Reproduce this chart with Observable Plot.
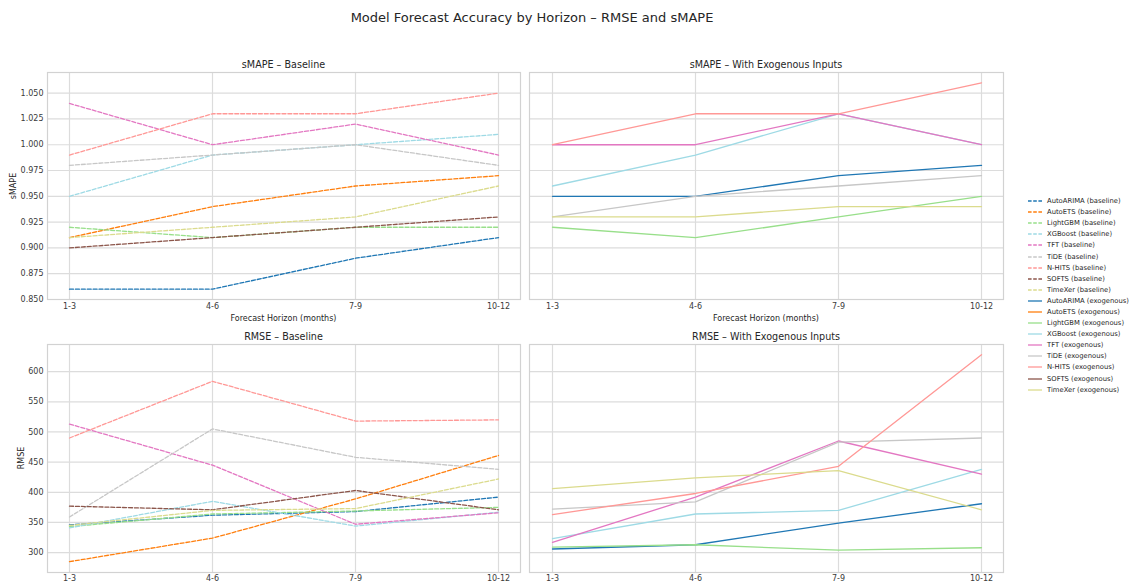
<!DOCTYPE html>
<html>
<head>
<meta charset="utf-8">
<script src="https://cdn.jsdelivr.net/npm/d3@7"></script>
<script src="https://cdn.jsdelivr.net/npm/@observablehq/plot@0.6"></script>
<style>
  html, body { margin: 0; padding: 0; background: #fff; }
  #root { position: relative; width: 1130px; height: 581px; overflow: hidden; font-family: "DejaVu Sans", sans-serif; color: #262626; }
  .abs { position: absolute; white-space: nowrap; }
  .ttl { font-size: 13px; transform: translate(-50%, -50%); }
  .sub { font-size: 9.6px; transform: translate(-50%, -50%); }
  .axl { font-size: 8px; transform: translate(-50%, -50%); }
  .axly { font-size: 8px; transform: translate(-50%, -50%) rotate(-90deg); }
  .leg { position: absolute; left: 1028px; top: 195.5px; width: 110px; font-size: 6.8px; color: #262626; white-space: nowrap; }
  .leg .row { height: 11.1px; display: flex; align-items: center; white-space: nowrap; }
  .leg svg { width: 14px; height: 4px; margin-right: 5px; flex: none; }
  .leg span { white-space: nowrap; flex: none; }
</style>
</head>
<body>
<div id="root"></div>
<script>
// ---------------- data ----------------
const horizons = ["1-3", "4-6", "7-9", "10-12"];
const models = ["AutoARIMA", "AutoETS", "LightGBM", "XGBoost", "TFT", "TiDE", "N-HITS", "SOFTS", "TimeXer"];
const modelColors = ["#1f77b4", "#ff7f0e", "#98df8a", "#9edae5", "#e377c2", "#c7c7c7", "#ff9896", "#8c564b", "#dbdb8d"];

const smapeBaseline = [
  [0.86, 0.86, 0.89, 0.91],
  [0.91, 0.94, 0.96, 0.97],
  [0.92, 0.91, 0.92, 0.92],
  [0.95, 0.99, 1.00, 1.01],
  [1.04, 1.00, 1.02, 0.99],
  [0.98, 0.99, 1.00, 0.98],
  [0.99, 1.03, 1.03, 1.05],
  [0.90, 0.91, 0.92, 0.93],
  [0.91, 0.92, 0.93, 0.96]
];
const smapeExogenous = [
  [0.95, 0.95, 0.97, 0.98],
  [null, null, null, null],
  [0.92, 0.91, 0.93, 0.95],
  [0.96, 0.99, 1.03, 1.00],
  [1.00, 1.00, 1.03, 1.00],
  [0.93, 0.95, 0.96, 0.97],
  [1.00, 1.03, 1.03, 1.06],
  [null, null, null, null],
  [0.93, 0.93, 0.94, 0.94]
];
const rmseBaseline = [
  [346, 362, 368, 392],
  [285, 324, 389, 461],
  [343, 364, 369, 375],
  [341, 385, 344, 367],
  [513, 445, 347, 366],
  [359, 505, 458, 438],
  [490, 584, 518, 520],
  [377, 371, 403, 371],
  [345, 370, 373, 422]
];
const rmseExogenous = [
  [306, 313, 349, 381],
  [null, null, null, null],
  [309, 313, 304, 308],
  [323, 364, 370, 438],
  [317, 392, 485, 430],
  [372, 384, 483, 490],
  [363, 398, 443, 628],
  [null, null, null, null],
  [406, 424, 436, 371]
];
const smapeTicks = [0.85, 0.875, 0.9, 0.925, 0.95, 0.975, 1.0, 1.025, 1.05];
const rmseTicks = [300, 350, 400, 450, 500, 550, 600];
const smapeDomain = [0.85, 1.07];
const rmseDomain = [267, 645];

const figTitle = "Model Forecast Accuracy by Horizon – RMSE and sMAPE";
const panelTitles = ["sMAPE – Baseline", "sMAPE – With Exogenous Inputs", "RMSE – Baseline", "RMSE – With Exogenous Inputs"];
const xLabel = "Forecast Horizon (months)";

// ---------------- helpers ----------------
function toRows(values) {
  return models.flatMap((m, i) => horizons.map((h, j) => ({ model: m, horizon: h, value: values[i][j] })));
}

const root = document.getElementById("root");
function addText(cls, text, x, y) {
  const d = document.createElement("div");
  d.className = "abs " + cls;
  d.textContent = text;
  d.style.left = x + "px";
  d.style.top = y + "px";
  root.appendChild(d);
}

function panel({ values, dashed, domain, ticks, fmt, showY, frame, xPad }) {
  const [fx0, fy0, fx1, fy1] = frame;
  const mL = showY ? fx0 : 6, mT = 2, mR = 2, mB = 18;
  const fw = fx1 - fx0, fh = fy1 - fy0;
  const plot = Plot.plot({
    width: fw + mL + mR,
    height: fh + mT + mB,
    marginLeft: mL, marginRight: mR, marginTop: mT, marginBottom: mB,
    style: { fontFamily: "DejaVu Sans, sans-serif", fontSize: "8px", color: "#3a3a3a", background: "transparent", overflow: "visible" },
    x: { type: "point", domain: horizons, padding: 0.15, axis: null },
    y: { domain, axis: null },
    color: { domain: models, range: modelColors },
    marks: [
      Plot.gridX(horizons, { stroke: "#dcdcdc", strokeOpacity: 1, strokeWidth: 1.2 }),
      Plot.gridY(ticks, { stroke: "#dcdcdc", strokeOpacity: 1, strokeWidth: 1.2 }),
      Plot.frame({ stroke: "#d2d2d2", strokeWidth: 1.2 }),
      Plot.axisX(horizons, { tickSize: 0, tickPadding: xPad, label: null, fill: "#3a3a3a" }),
      showY ? Plot.axisY(ticks, { tickSize: 0, tickPadding: 4, tickFormat: fmt, label: null, fill: "#3a3a3a" }) : null,
      Plot.line(toRows(values), {
        x: "horizon", y: "value", z: "model", stroke: "model",
        strokeWidth: 1.3, strokeDasharray: dashed ? "4,1.9" : null, curve: "linear"
      })
    ]
  });
  plot.style.position = "absolute";
  plot.style.left = (fx0 - mL) + "px";
  plot.style.top = (fy0 - mT) + "px";
  root.appendChild(plot);
}

// ---------------- panels ----------------
const fmtS = d3.format(".3f");
const fmtR = d3.format("d");
panel({ values: smapeBaseline, dashed: true, domain: smapeDomain, ticks: smapeTicks, fmt: fmtS, showY: true, frame: [47, 72, 520, 299], xPad: 4 });
panel({ values: smapeExogenous, dashed: false, domain: smapeDomain, ticks: smapeTicks, fmt: fmtS, showY: false, frame: [529, 72, 1003, 299], xPad: 4 });
panel({ values: rmseBaseline, dashed: true, domain: rmseDomain, ticks: rmseTicks, fmt: fmtR, showY: true, frame: [47, 344, 520, 572], xPad: 2.5 });
panel({ values: rmseExogenous, dashed: false, domain: rmseDomain, ticks: rmseTicks, fmt: fmtR, showY: false, frame: [529, 344, 1003, 572], xPad: 2.5 });

// ---------------- texts ----------------
addText("ttl", figTitle, 532, 17);
addText("sub", panelTitles[0], 283.5, 64);
addText("sub", panelTitles[1], 766, 64);
addText("sub", panelTitles[2], 283.5, 336);
addText("sub", panelTitles[3], 766, 336);
addText("axl", xLabel, 283.5, 318);
addText("axl", xLabel, 766, 318);
addText("axly", "sMAPE", 13, 185.5);
addText("axly", "RMSE", 21, 458);

// ---------------- legend ----------------
const leg = document.createElement("div");
leg.className = "leg";
const entries = [
  ...models.map((m, i) => ({ label: m + " (baseline)", color: modelColors[i], dashed: true })),
  ...models.map((m, i) => ({ label: m + " (exogenous)", color: modelColors[i], dashed: false }))
];
for (const e of entries) {
  const row = document.createElement("div");
  row.className = "row";
  row.innerHTML = `<svg viewBox="0 0 14 4"><line x1="0" y1="2" x2="14" y2="2" stroke="${e.color}" stroke-width="1.3" ${e.dashed ? 'stroke-dasharray="3.6,1.6"' : ""}/></svg><span>${e.label}</span>`;
  leg.appendChild(row);
}
root.appendChild(leg);
</script>
</body>
</html>
